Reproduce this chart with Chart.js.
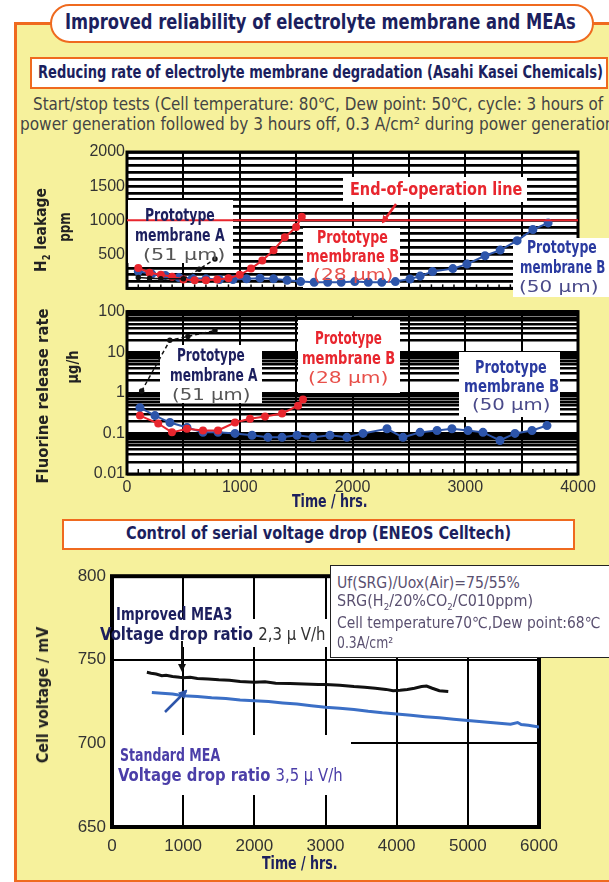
<!DOCTYPE html>
<html><head><meta charset="utf-8">
<script src="https://cdn.jsdelivr.net/npm/chart.js@4.4.1/dist/chart.umd.min.js"></script>
<style>
html,body{margin:0;padding:0}
body{width:609px;height:882px;position:relative;overflow:hidden;background:#fff;font-family:"Liberation Sans Narrow","DejaVu Sans Condensed","Liberation Sans",sans-serif}
.a{position:absolute}
.t{position:absolute;white-space:nowrap;line-height:1;transform-origin:0 50%;z-index:5}
.r{position:absolute;white-space:nowrap;line-height:1;transform-origin:0 0;z-index:5}
canvas{position:absolute;left:0;z-index:2}
</style></head><body>
<div class="a" style="left:17px;top:24px;right:0;bottom:0;background:#f6f19c"></div>
<div class="a" style="left:14px;top:22px;width:3px;bottom:0;background:#ef6a1f"></div>
<div class="a" style="left:14px;top:22px;right:0;height:3px;background:#ef6a1f"></div>
<div class="a" style="left:14px;right:0;bottom:0;height:2px;background:#ef6a1f"></div>
<div class="a" style="left:50px;top:4px;width:540px;height:35px;border:2px solid #ef6a1f;border-radius:20px;background:#fff"></div>
<div class="a" style="left:30px;top:57px;width:574px;height:28px;border:2px solid #ef6a1f;background:#fff"></div>
<div class="a" style="left:62px;top:519px;width:509px;height:27px;border:2px solid #ef6a1f;background:#fff"></div>
<div class="a" style="left:330px;top:565px;width:290px;height:91px;border:1.5px solid #222;background:#fff;z-index:4"></div>
<canvas id="c1" width="609" height="160" style="top:140px"></canvas>
<canvas id="c2" width="609" height="200" style="top:300px"></canvas>
<canvas id="c3" width="609" height="295" style="top:560px"></canvas>
<svg class="a" style="left:0;top:0;z-index:6" width="609" height="882">
<defs>
<marker id="ar" markerWidth="8" markerHeight="8" refX="6" refY="4" orient="auto" markerUnits="userSpaceOnUse"><path d="M0,0 L8,4 L0,8 z" fill="#e8262e"/></marker>
<marker id="ak" markerWidth="8" markerHeight="8" refX="6" refY="4" orient="auto" markerUnits="userSpaceOnUse"><path d="M0,0 L8,4 L0,8 z" fill="#111"/></marker>
<marker id="ab" markerWidth="9" markerHeight="9" refX="7" refY="4.5" orient="auto" markerUnits="userSpaceOnUse"><path d="M0,0 L9,4.5 L0,9 z" fill="#2d55aa"/></marker>
</defs>
<line x1="396" y1="204" x2="383" y2="222" stroke="#e8262e" stroke-width="2.5" marker-end="url(#ar)"/>
<line x1="182" y1="641" x2="182" y2="670" stroke="#111" stroke-width="2" marker-end="url(#ak)"/>
<line x1="165" y1="712" x2="186" y2="691" stroke="#2d55aa" stroke-width="2.5" marker-end="url(#ab)"/>
</svg>
<script>
// ---------- DATA ----------
// H2 leakage (ppm) vs time (hrs)
const h2A_time   = [100, 200, 300, 500, 640, 780];
const h2A_ppm    = [160, 150, 140, 140, 280, 430];
const h2B28_time = [100, 200, 300, 400, 500, 600, 700, 800, 900, 1000, 1100, 1200, 1300, 1400, 1500, 1550];
const h2B28_ppm  = [300, 230, 200, 170, 130, 120, 120, 130, 150, 200, 290, 410, 560, 750, 900, 1050];
const h2B50_time = [100, 220, 340, 460, 580, 700, 820, 940, 1060, 1180, 1300, 1420, 1540, 1660, 1780, 1900, 2020, 2140, 2260, 2380, 2510, 2600, 2710, 2890, 3015, 3175, 3310, 3460, 3600, 3735];
const h2B50_ppm  = [250, 210, 190, 160, 150, 140, 130, 130, 140, 150, 140, 120, 100, 90, 90, 90, 100, 90, 90, 100, 137, 180, 247, 290, 356, 479, 562, 700, 863, 960];
const h2Limit_time = [0, 4000];
const h2Limit_ppm  = [1000, 1000];
const h2Ticks = [500, 1000, 1500, 2000];

// Fluorine release rate (ug/h) vs time (hrs)
const frA_time   = [130, 380, 540, 780];
const frA_val    = [1.1, 19.6, 24.5, 34];
const frB28_time = [115, 277, 399, 532, 674, 807, 958, 1091, 1224, 1375, 1517, 1561];
const frB28_val  = [0.275, 0.175, 0.106, 0.13, 0.118, 0.118, 0.185, 0.23, 0.26, 0.31, 0.48, 0.68];
const frB50_time = [115, 248, 381, 532, 674, 807, 958, 1109, 1250, 1375, 1508, 1650, 1800, 1950, 2093, 2306, 2448, 2599, 2750, 2882, 3024, 3157, 3308, 3441, 3592, 3725];
const frB50_val  = [0.43, 0.275, 0.185, 0.14, 0.106, 0.106, 0.1, 0.09, 0.08, 0.08, 0.09, 0.08, 0.09, 0.08, 0.1, 0.13, 0.08, 0.106, 0.118, 0.13, 0.118, 0.106, 0.067, 0.1, 0.118, 0.156];
const frTicks = [0.01, 0.1, 1, 10, 100];

// Cell voltage (mV) vs time (hrs)
const mea3_time = [490, 550, 620, 700, 760, 850, 950, 1000, 1100, 1200, 1350, 1500, 1650, 1800, 2000, 2150, 2300, 2500, 2700, 2900, 3000, 3200, 3400, 3550, 3700, 3850, 3950, 4050, 4150, 4250, 4350, 4420, 4500, 4600, 4725];
const mea3_mV   = [742.5, 742, 741.5, 740.5, 740.8, 740, 739.5, 739.3, 739.5, 738.8, 738.5, 738, 737.8, 737, 736.5, 736.8, 736, 735.8, 735.5, 735.3, 735.2, 734.8, 734, 733.6, 733, 732.3, 731.5, 731.8, 732.3, 733, 734, 734.3, 733, 731.5, 731];
const std_time  = [560, 700, 850, 1000, 1200, 1400, 1600, 1800, 2000, 2200, 2400, 2600, 2800, 3000, 3200, 3400, 3600, 3800, 4000, 4200, 4400, 4600, 4800, 5000, 5200, 5400, 5600, 5700, 5750, 5850, 6000];
const std_mV    = [730.5, 730, 729.5, 728.5, 728, 727.3, 726.8, 726, 725.5, 725, 724.2, 723.5, 722.5, 721.6, 721, 720.3, 719.2, 718.3, 717.6, 716.8, 716, 715.3, 714.5, 713.7, 713, 712.2, 711.5, 712.5, 711.3, 710.8, 709.8];
const cvTicksX = [0, 1000, 2000, 3000, 4000, 5000, 6000];

// ---------- HELPERS ----------
const pts = (xs, ys) => xs.map((x, i) => ({x, y: ys[i]}));
const RED = '#e8262e', BLUE = '#2d55aa', NAVY = '#1c1f5e';
Chart.defaults.font.family = '"Liberation Sans", Arial, sans-serif';

const frameBoxes = {
  id: 'frameBoxes',
  beforeDraw(chart, a, o) {
    const {ctx, chartArea: c} = chart;
    ctx.save(); ctx.fillStyle = '#fff'; ctx.fillRect(c.left, c.top, c.width, c.height); ctx.restore();
  },
  beforeDatasetsDraw(chart, a, o) {
    const {ctx, chartArea: c} = chart;
    ctx.save();
    if (o.minorStep) {
      const xs = chart.scales.x;
      ctx.strokeStyle = '#000'; ctx.lineWidth = 1.5;
      for (let v = xs.min + o.minorStep; v < xs.max; v += o.minorStep) {
        const px = xs.getPixelForValue(v);
        ctx.beginPath(); ctx.moveTo(px, c.bottom); ctx.lineTo(px, c.bottom - o.minorLen); ctx.stroke();
      }
    }
    ctx.strokeStyle = '#000'; ctx.lineWidth = o.frame;
    ctx.strokeRect(c.left, c.top, c.width, c.height);
    ctx.fillStyle = '#fff';
    (o.rects || []).forEach(r => ctx.fillRect(r[0], r[1] - o.top, r[2], r[3]));
    ctx.restore();
  }
};

const baseOpts = () => ({
  responsive: false, animation: false, devicePixelRatio: 1,
  plugins: {legend: {display: false}, tooltip: {enabled: false}},
  elements: {line: {tension: 0}}
});

// ---------- CHART 1: H2 leakage ----------
const o1 = baseOpts();
o1.layout = {padding: {left: 0, right: 31, top: 12, bottom: 0}};
o1.plugins.frameBoxes = {frame: 3, top: 140, minorStep: 100, minorLen: 4,
  rects: [[128,200,105,63],[343,177,184,25],[303,228,97,60],[513,238,96,59]]};
o1.scales = {
  x: {type: 'linear', min: 0, max: 4000,
      ticks: {display: false, stepSize: 500},
      grid: {color: '#000', lineWidth: 2, drawTicks: false}, border: {display: false},
      afterFit(s) { s.height = 2; }},
  y: {min: 0, max: 2000,
      ticks: {stepSize: 100, autoSkip: false, padding: 2, color: '#333', font: {size: 16},
              callback: v => h2Ticks.includes(v) ? String(v) : ''},
      grid: {color: '#000', lineWidth: 2.8, drawTicks: false}, border: {display: false},
      afterFit(s) { s.width = 127; }}
};
new Chart(document.getElementById('c1'), {
  type: 'line',
  data: {datasets: [
    {data: pts(h2Limit_time, h2Limit_ppm), borderColor: RED, borderWidth: 2, pointRadius: 0},
    {data: pts(h2A_time, h2A_ppm), borderColor: '#111', backgroundColor: '#111', borderWidth: 1.5, pointRadius: 2,
     segment: {borderDash: ctx => ctx.p0DataIndex >= 3 ? [4, 3] : undefined}},
    {data: pts(h2B28_time, h2B28_ppm), borderColor: RED, backgroundColor: RED, borderWidth: 2, pointRadius: 3},
    {data: pts(h2B50_time, h2B50_ppm), borderColor: BLUE, backgroundColor: BLUE, borderWidth: 2, pointRadius: 3.5}
  ]},
  options: o1, plugins: [frameBoxes]
});

// ---------- CHART 2: Fluorine release rate ----------
const o2 = baseOpts();
o2.layout = {padding: {left: 0, right: 31, top: 7, bottom: 0}};
o2.plugins.frameBoxes = {frame: 3, top: 300, minorStep: 100, minorLen: 5,
  rects: [[160,345,102,58],[298,320,102,73],[459,352,101,65]]};
o2.scales = {
  x: {type: 'linear', min: 0, max: 4000,
      ticks: {stepSize: 500, autoSkip: false, padding: 4, color: '#333', font: {size: 16}, maxRotation: 0,
              callback: v => v % 1000 === 0 ? String(v) : ''},
      grid: {color: '#000', lineWidth: 2, drawTicks: false}, border: {display: false},
      afterFit(s) { s.height = 26; }},
  y: {type: 'logarithmic', min: 0.01, max: 100,
      afterBuildTicks(s) {
        const t = [];
        for (let i = 0; i < frTicks.length - 1; i++)
          for (let k = 1; k <= 9; k++) t.push({value: Number((frTicks[i] * k).toPrecision(3))});
        t.push({value: frTicks[frTicks.length - 1]});
        s.ticks = t;
      },
      ticks: {autoSkip: false, padding: 2, color: '#333', font: {size: 16},
              callback: v => frTicks.includes(v) ? String(v) : ''},
      grid: {color: '#000', lineWidth: 2.5, drawTicks: false}, border: {display: false},
      afterFit(s) { s.width = 127; }}
};
new Chart(document.getElementById('c2'), {
  type: 'line',
  data: {datasets: [
    {data: pts(frA_time, frA_val), borderColor: '#111', backgroundColor: '#111', borderWidth: 1.5, pointRadius: 2, borderDash: [4, 3]},
    {data: pts(frB28_time, frB28_val), borderColor: RED, backgroundColor: RED, borderWidth: 2, pointRadius: 3},
    {data: pts(frB50_time, frB50_val), borderColor: BLUE, backgroundColor: BLUE, borderWidth: 2, pointRadius: 3.5}
  ]},
  options: o2, plugins: [frameBoxes]
});

// ---------- CHART 3: Cell voltage ----------
const o3 = baseOpts();
o3.layout = {padding: {left: 0, right: 70, top: 15, bottom: 0}};
o3.plugins.frameBoxes = {frame: 4, top: 560, rects: [[114,619,221,28],[114,735,237,60]]};
o3.scales = {
  x: {type: 'linear', min: 0, max: 6000,
      ticks: {stepSize: 1000, autoSkip: false, padding: 9, color: '#333', font: {size: 17}, maxRotation: 0,
              callback: v => cvTicksX.includes(v) ? String(v) : ''},
      grid: {color: '#000', lineWidth: 2, drawTicks: false}, border: {display: false},
      afterFit(s) { s.height = 28; }},
  y: {min: 650, max: 800,
      ticks: {stepSize: 50, autoSkip: false, padding: 6, color: '#333', font: {size: 17},
              callback: v => String(v)},
      grid: {color: '#000', lineWidth: 2, drawTicks: false}, border: {display: false},
      afterFit(s) { s.width = 112; }}
};
new Chart(document.getElementById('c3'), {
  type: 'line',
  data: {datasets: [
    {data: pts(mea3_time, mea3_mV), borderColor: '#111', borderWidth: 3, pointRadius: 0},
    {data: pts(std_time, std_mV), borderColor: '#3b6fc6', borderWidth: 3, pointRadius: 0}
  ]},
  options: o3, plugins: [frameBoxes]
});

// ---------- TEXT ----------
function T(html, x, y, w, size, color, weight, anchor) {
  const d = document.createElement('div');
  d.className = 't'; d.innerHTML = html;
  d.style.fontSize = size + 'px'; d.style.color = color; d.style.fontWeight = weight || 'bold';
  document.body.appendChild(d);
  const s = w / d.offsetWidth;
  d.style.left = (anchor === 'c' ? x - w / 2 : x) + 'px';
  d.style.top = y + 'px';
  d.style.transform = `translateY(-50%) scaleX(${s})`;
}
function R(html, cx, cy, len, size, color) {
  const d = document.createElement('div');
  d.className = 'r'; d.innerHTML = html;
  d.style.fontSize = size + 'px'; d.style.color = color; d.style.fontWeight = 'bold';
  document.body.appendChild(d);
  const s = len / d.offsetWidth;
  d.style.left = cx + 'px'; d.style.top = cy + 'px';
  d.style.transform = `rotate(-90deg) scaleX(${s}) translate(-50%,-50%)`;
}
const GREY = '#444';
T('Improved reliability of electrolyte membrane and MEAs', 320, 22, 511, 22, NAVY, 'bold', 'c');
T('Reducing rate of electrolyte membrane degradation (Asahi Kasei Chemicals)', 320, 72, 565, 17, NAVY, 'bold', 'c');
T('Start/stop tests (Cell temperature: 80℃, Dew point: 50℃, cycle: 3 hours of', 318, 104, 570, 17, GREY, 'normal', 'c');
T('power generation followed by 3 hours off, 0.3 A/cm² during power generation)', 20, 124, 600, 17, GREY, 'normal', 'l');

// chart 1 labels
T('Prototype', 180, 215, 70, 17, NAVY, 'bold', 'c');
T('membrane A', 180, 235, 90, 17, NAVY, 'bold', 'c');
T('(51 μm)', 184, 255, 82, 16, '#555', 'normal', 'c');
T('End-of-operation line', 436, 189, 172, 18, RED, 'bold', 'c');
T('Prototype', 352, 237, 71, 17, RED, 'bold', 'c');
T('membrane B', 352, 256, 93, 17, RED, 'bold', 'c');
T('(28 μm)', 353, 275, 80, 16, '#e8504a', 'normal', 'c');
T('Prototype', 562, 247, 70, 17, '#2a3aa0', 'bold', 'c');
T('membrane B', 562, 267, 85, 17, '#2a3aa0', 'bold', 'c');
T('(50 μm)', 558, 287, 79, 16, '#4a4a8a', 'normal', 'c');

// chart 2 labels
T('Prototype', 211, 355, 68, 17, NAVY, 'bold', 'c');
T('membrane A', 214, 375, 88, 17, NAVY, 'bold', 'c');
T('(51 μm)', 211, 395, 78, 16, '#555', 'normal', 'c');
T('Prototype', 348, 338, 67, 17, RED, 'bold', 'c');
T('membrane B', 348, 358, 93, 17, RED, 'bold', 'c');
T('(28 μm)', 348, 378, 80, 16, '#e8504a', 'normal', 'c');
T('Prototype', 511, 367, 72, 17, '#2a3aa0', 'bold', 'c');
T('membrane B', 511, 386, 95, 17, '#2a3aa0', 'bold', 'c');
T('(50 μm)', 511, 405, 78, 16, '#4a4a8a', 'normal', 'c');
T('Time / hrs.', 330, 501, 76, 17, NAVY, 'bold', 'c');

// axis titles
R('H<sub style="font-size:0.6em">2</sub> leakage', 42, 230, 84, 16, '#222');
R('ppm', 65, 227, 30, 16, '#222');
R('Fluorine release rate', 43, 396, 175, 16, '#222');
R('μg/h', 73, 367, 33, 16, '#222');
R('Cell voltage / mV', 43, 695, 136, 16, '#222');

// section 2
T('Control of serial voltage drop (ENEOS Celltech)', 318, 533, 385, 17, NAVY, 'bold', 'c');
T('Improved MEA3', 116, 614, 116, 17, NAVY, 'bold', 'l');
T('Voltage drop ratio <span style="font-weight:normal;color:#333">2,3 μ V/h</span>', 100, 634, 226, 17, NAVY, 'bold', 'l');
T('Standard MEA', 120, 755, 100, 17, '#4b3ea8', 'bold', 'l');
T('Voltage drop ratio <span style="font-weight:normal">3,5 μ V/h</span>', 118, 775, 225, 17, '#4b3ea8', 'bold', 'l');
T('Uf(SRG)/Uox(Air)=75/55%', 337, 583, 183, 15, '#5a5070', 'normal', 'l');
T('SRG(H<sub style="font-size:0.6em">2</sub>/20%CO<sub style="font-size:0.6em">2</sub>/C010ppm)', 337, 603, 196, 15, '#5a5070', 'normal', 'l');
T('Cell temperature70℃,Dew point:68℃', 337, 623, 263, 15, '#5a5070', 'normal', 'l');
T('0.3A/cm²', 337, 643, 56, 15, '#5a5070', 'normal', 'l');
T('Time / hrs.', 300, 863, 76, 17, NAVY, 'bold', 'c');
</script>
</body></html>
